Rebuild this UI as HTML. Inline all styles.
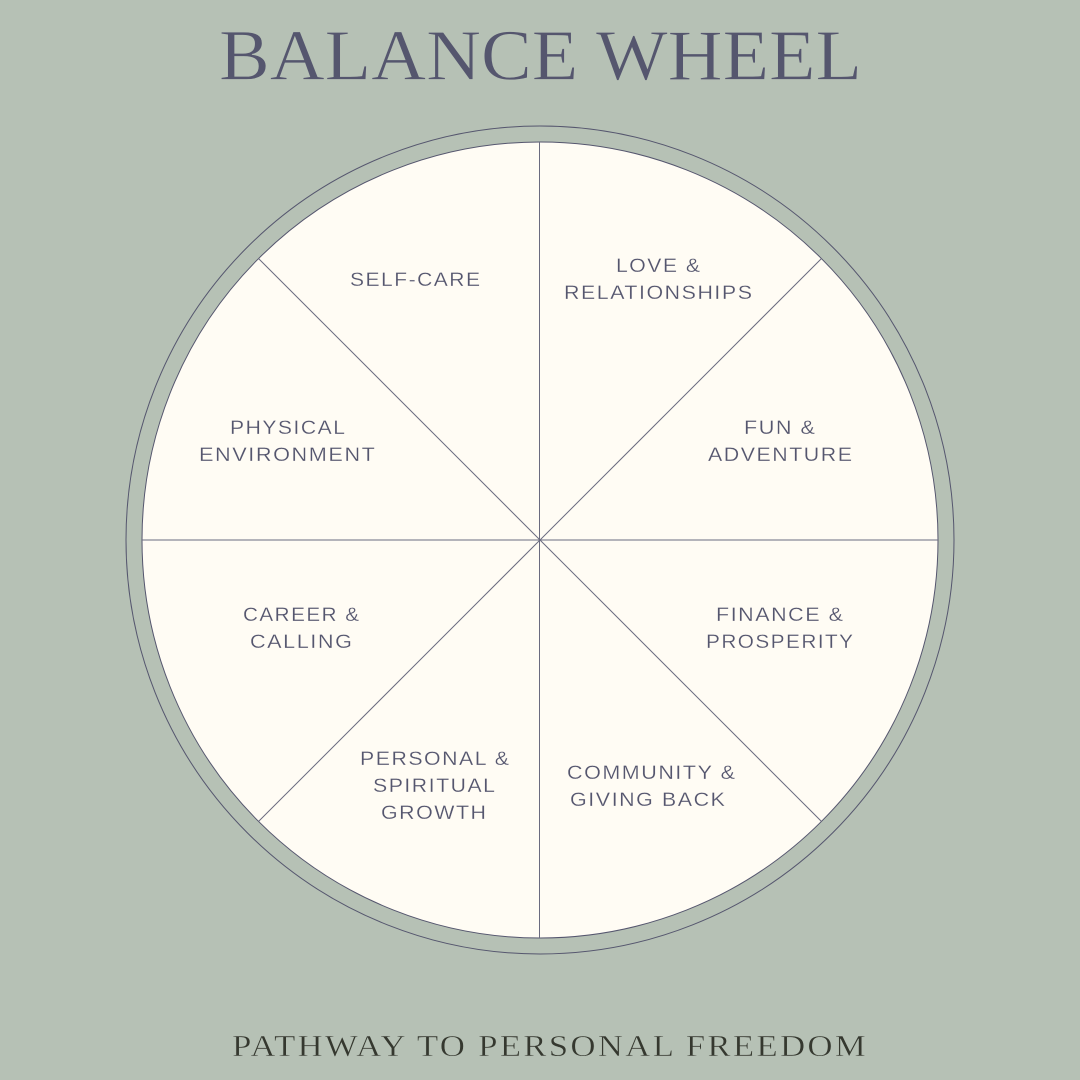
<!DOCTYPE html>
<html>
<head>
<meta charset="utf-8">
<style>
html,body{margin:0;padding:0;background:#b6c1b5;width:1080px;height:1080px;overflow:hidden}
svg{display:block}
.l{font-family:"Liberation Sans",sans-serif;font-size:19.5px;letter-spacing:1.4px;fill:#55566e;stroke:#fffcf4;stroke-width:.2px}
.t{font-family:"Liberation Serif",serif;font-size:72px;fill:#55566e;stroke:#b6c1b5;stroke-width:.7px}
.f{font-family:"Liberation Serif",serif;font-size:31px;letter-spacing:2px;fill:#35382f;stroke:#b6c1b5;stroke-width:.45px}
</style>
</head>
<body>
<svg width="1080" height="1080" viewBox="0 0 1080 1080" xmlns="http://www.w3.org/2000/svg">
<rect width="1080" height="1080" fill="#b6c1b5"/>
<text class="t" x="219" y="79.500" textLength="643" lengthAdjust="spacingAndGlyphs">BALANCE WHEEL</text>
<circle cx="540" cy="540" r="414" fill="none" stroke="#55566e" stroke-width="1"/>
<circle cx="540" cy="540" r="398" fill="#fffcf4" stroke="#55566e" stroke-width="1"/>
<g stroke="#6a6b7f" stroke-width="1">
<line x1="539.500" y1="142" x2="539.500" y2="938"/>
<line x1="142" y1="540" x2="938" y2="540"/>
<line x1="258.600" y1="258.600" x2="821.400" y2="821.400"/>
<line x1="821.400" y1="258.600" x2="258.600" y2="821.400"/>
</g>
<g>
<text class="l" x="350" y="286" textLength="131.500" lengthAdjust="spacingAndGlyphs">SELF-CARE</text>
<text class="l" x="616" y="272" textLength="85.500" lengthAdjust="spacingAndGlyphs">LOVE &amp;</text>
<text class="l" x="564" y="299" textLength="189.500" lengthAdjust="spacingAndGlyphs">RELATIONSHIPS</text>
<text class="l" x="230" y="434" textLength="116.500" lengthAdjust="spacingAndGlyphs">PHYSICAL</text>
<text class="l" x="199" y="461" textLength="177.500" lengthAdjust="spacingAndGlyphs">ENVIRONMENT</text>
<text class="l" x="744" y="434" textLength="72.500" lengthAdjust="spacingAndGlyphs">FUN &amp;</text>
<text class="l" x="708" y="461" textLength="145.500" lengthAdjust="spacingAndGlyphs">ADVENTURE</text>
<text class="l" x="243" y="621" textLength="117.500" lengthAdjust="spacingAndGlyphs">CAREER &amp;</text>
<text class="l" x="250" y="648" textLength="103.500" lengthAdjust="spacingAndGlyphs">CALLING</text>
<text class="l" x="716" y="621" textLength="128.500" lengthAdjust="spacingAndGlyphs">FINANCE &amp;</text>
<text class="l" x="706" y="648" textLength="148.500" lengthAdjust="spacingAndGlyphs">PROSPERITY</text>
<text class="l" x="360" y="765" textLength="150.500" lengthAdjust="spacingAndGlyphs">PERSONAL &amp;</text>
<text class="l" x="373" y="792" textLength="123.500" lengthAdjust="spacingAndGlyphs">SPIRITUAL</text>
<text class="l" x="381" y="819" textLength="106.500" lengthAdjust="spacingAndGlyphs">GROWTH</text>
<text class="l" x="567" y="779" textLength="169.500" lengthAdjust="spacingAndGlyphs">COMMUNITY &amp;</text>
<text class="l" x="570" y="806" textLength="156.500" lengthAdjust="spacingAndGlyphs">GIVING BACK</text>
</g>
<text class="f" x="232" y="1056" textLength="636" lengthAdjust="spacingAndGlyphs">PATHWAY TO PERSONAL FREEDOM</text>
</svg>
</body>
</html>
